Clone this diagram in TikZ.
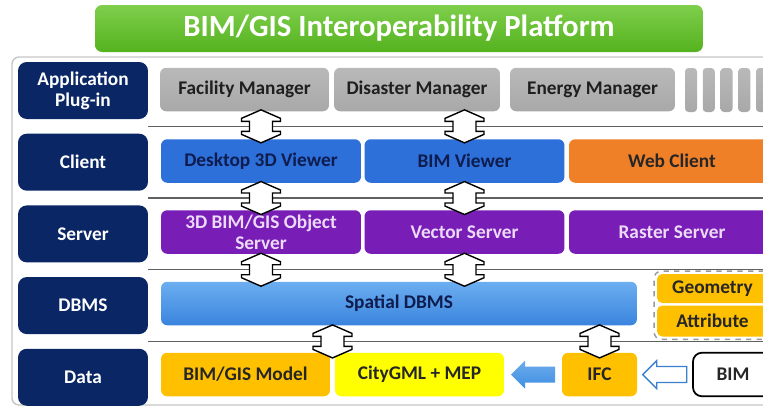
\documentclass[tikz,border=0pt]{standalone}
\usepackage{fontspec}
\setmainfont{Carlito}
\usetikzlibrary{positioning, fit, calc}
\definecolor{navy}{RGB}{10,38,100}
\definecolor{deepnavy}{RGB}{14,28,78}
\definecolor{leafgreen}{RGB}{104,198,44}
\definecolor{darkleaf}{RGB}{84,178,30}
\definecolor{viewblue}{RGB}{46,112,218}
\definecolor{dbtop}{RGB}{108,174,240}
\definecolor{dbbot}{RGB}{58,132,222}
\definecolor{srvpurple}{RGB}{120,30,182}
\definecolor{lavender}{RGB}{236,218,248}
\definecolor{webor}{RGB}{240,128,40}
\definecolor{amber}{RGB}{255,192,0}
\definecolor{lemon}{RGB}{255,255,0}
\definecolor{flowblue}{RGB}{62,143,228}

\begin{document}
\begin{tikzpicture}[x=0.02cm, y=-0.02cm,
  node distance=0.28cm and 0.08cm,
  box/.style={rounded corners=3.5pt, align=center, inner sep=1pt,
              font=\bfseries\fontsize{11}{12}\selectfont, minimum height=0.87cm},
  lab/.style={box, fill=navy, text=white, minimum width=2.6cm,
              minimum height=1.14cm, rounded corners=5pt},
  plug/.style={box, top color=gray!55, bottom color=gray!68, text=black!88},
  view/.style={box, fill=viewblue, text=deepnavy, minimum width=4cm},
  serv/.style={box, fill=srvpurple, text=lavender, minimum width=4cm},
  dat/.style={box, fill=amber, text=black!85},
  sep/.style={draw=gray!75!black, line width=0.8pt},
  % white up/down block arrow between layers
  updown/.pic={\path[pic actions] (0,-16.5) -- (19.5,-8) -- (19.5,-5) -- (11.5,-5)
      -- (11.5,5) -- (19.5,5) -- (19.5,8) -- (0,16.5) -- (-19.5,8) -- (-19.5,5)
      -- (-11.5,5) -- (-11.5,-5) -- (-19.5,-5) -- (-19.5,-8) -- cycle;},
  % left pointing block arrow
  leftarr/.pic={\path[pic actions] (-22,0) -- (-8,-14) -- (-8,-8) -- (22,-8)
      -- (22,8) -- (-8,8) -- (-8,14) -- cycle;},
  link/.style={draw=black, line width=0.8pt, fill=white, line join=miter}]
\useasboundingbox (0,0) rectangle (763,410);
\clip (0,0) rectangle (763,410);

% title and frame
\node[box, top color=leafgreen!85!white, bottom color=darkleaf, text=white,
      minimum width=12.16cm, minimum height=0.94cm, rounded corners=4pt,
      font=\bfseries\fontsize{17.5}{20}\selectfont] (title) at (399,28.5)
  {BIM/GIS Interoperability Platform};
\draw[gray!45, line width=0.8pt, fill=white, rounded corners=4pt]
  (12,57) rectangle (790,405);

% layer labels
\node[lab] (app) at (83,90.5) {Application\\ Plug-in};
\node[lab, below=of app] (cli) {Client};
\node[lab, below=of cli] (srv) {Server};
\node[lab, below=of srv] (dbms) {DBMS};
\node[lab, below=of dbms] (data) {Data};

\coordinate (s1) at ($(app.east)!0.5!(cli.east)$);
\coordinate (s2) at ($(cli.east)!0.5!(srv.east)$);
\coordinate (s3) at ($(srv.east)!0.5!(dbms.east)$);
\coordinate (s4) at ($(dbms.east)!0.5!(data.east)$);
\foreach \s in {s1,s2,s3,s4}
  \draw[sep] (\s) -- ++(620,0);

% application plug-ins
\node[plug, minimum width=3.38cm] (fm) at (244.5,89.5) {Facility Manager};
\node[plug, minimum width=3.32cm] (dm) at (417,89.5) {Disaster Manager};
\node[plug, minimum width=3.3cm] (em) at (592.5,89.5) {Energy Manager};
\foreach \i in {0,...,4}
  \node[plug, minimum width=0.24cm, minimum height=0.88cm, rounded corners=2pt]
    (bar\i) at (691+17.75*\i,90) {};

% clients
\node[view] (d3v) at (261,161) {Desktop 3D Viewer};
\node[view] (bimv) at (464.5,161) {BIM Viewer};
\node[box, fill=webor, text=black!85, minimum width=4.12cm] (web) at (672,161) {Web Client};

% servers
\node[serv] (obj) at (261,232) {3D BIM/GIS Object\\ Server};
\node[serv] (vec) at (464.5,232) {Vector Server};
\node[serv, minimum width=4.12cm] (ras) at (672,232) {Raster Server};

% dbms
\node[box, top color=dbtop, bottom color=dbbot, text=deepnavy,
      minimum width=9.52cm] (sdb) at (399,303.5) {Spatial DBMS};
\node[dat, minimum width=2.22cm, minimum height=0.58cm, rounded corners=3pt]
  (geo) at (712.5,288.5) {Geometry};
\node[dat, minimum width=2.22cm, minimum height=0.62cm, rounded corners=3pt]
  (attr) at (712.5,321) {Attribute};
\node[draw=gray!80, dashed, line width=0.8pt, rounded corners=4pt,
      inner sep=0.05cm, fit=(geo)(attr)] (gabox) {};

% data
\node[dat, minimum width=3.38cm] (bgm) at (245.5,374.5) {BIM/GIS Model};
\node[box, fill=lemon, text=black!85, minimum width=3.38cm] (cgml) at (419.5,374.5)
  {CityGML + MEP};
\node[dat, minimum width=1.5cm] (ifc) at (599.5,374.5) {IFC};
\node[box, draw=black, line width=1pt, fill=white, text=black!85,
      minimum width=1.6cm, rounded corners=5pt] (bim) at (733,374.5) {BIM};
\pic[top color=flowblue!75!white, bottom color=flowblue]
  (toc) at ($(cgml.east)!0.5!(ifc.west)$) {leftarr};
\pic[draw=flowblue!90!black, line width=0.8pt, fill=white]
  (toi) at ($(ifc.east)!0.5!(bim.west)$) {leftarr};

% links between layers
\coordinate (gap) at ($(bgm.east)!0.5!(cgml.west)$);
\pic[link] (l1) at (d3v |- s1) {updown};
\pic[link] (l2) at (bimv |- s1) {updown};
\pic[link] (l3) at (d3v |- s2) {updown};
\pic[link] (l4) at (bimv |- s2) {updown};
\pic[link] (l5) at (obj |- s3) {updown};
\pic[link] (l6) at (vec |- s3) {updown};
\pic[link] (l7) at (gap |- s4) {updown};
\pic[link] (l8) at (ifc |- s4) {updown};
\end{tikzpicture}
\end{document}
